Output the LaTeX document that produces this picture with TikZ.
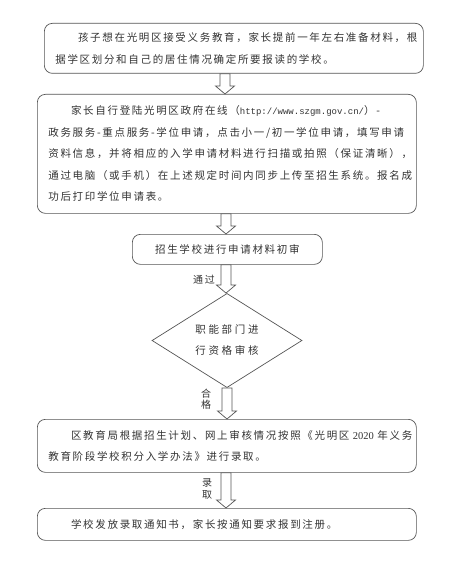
\documentclass[tikz,border=0pt]{standalone}
\usepackage{fontspec}
\setmainfont{Noto Sans CJK SC}[LetterSpace=16]
\newfontfamily\urlfont{Liberation Mono}
\newfontfamily\numfont{Liberation Serif}
\usetikzlibrary{shapes.geometric,calc}
\definecolor{linegray}{HTML}{555555}
\definecolor{textgray}{HTML}{333333}
\newcommand\blockarr[3]{%
  \draw[blk] let \p1=(#1.south), \p2=(#2.north) in
    (#3pt-5pt,\y1) -- (#3pt-5pt,\y2+8pt) -- (#3pt-9.5pt,\y2+8pt) -- (#3pt,\y2)
    -- (#3pt+9.5pt,\y2+8pt) -- (#3pt+5pt,\y2+8pt) -- (#3pt+5pt,\y1) -- cycle;}
\newcommand\ind{\phantom{汉字}}
\begin{document}
\begin{tikzpicture}[x=1pt,y=-1pt,
  box/.style={draw=linegray, rounded corners=8pt, line width=0.7pt,
    inner xsep=11pt, inner ysep=0pt, text width=357pt, align=left,
    anchor=north west, text=textgray,
    font=\fontsize{10.5}{21.5}\selectfont},
  blk/.style={draw=linegray, line width=0.7pt, fill=white},
  lbl/.style={text=textgray, inner sep=0pt, align=center,
    font=\fontsize{10}{12}\selectfont}]
\useasboundingbox[fill=white] (0,0) rectangle (459,561);

\node[box, minimum height=50pt] (b1) at (44,23)
  {\ind 孩子想在光明区接受义务教育，家长提前一年左右准备材料，根\\
   据学区划分和自己的居住情况确定所要报读的学校。};

\node[box, minimum height=119pt] (b2) at (37,94)
  {\ind 家长自行登陆光明区政府在线（{\urlfont\fontsize{9}{21.5}\selectfont http://www.szgm.gov.cn/}）-\\
   政务服务-重点服务-学位申请，点击小一/初一学位申请，填写申请\\
   资料信息，并将相应的入学申请材料进行扫描或拍照（保证清晰），\\
   通过电脑（或手机）在上述规定时间内同步上传至招生系统。报名成\\
   功后打印学位申请表。};

\node[box, text width=168pt, align=center, minimum height=30pt] (b3) at (132,234)
  {招生学校进行申请材料初审};

\node[diamond, draw=linegray, line width=0.7pt, minimum width=150pt,
  minimum height=91pt, inner sep=0pt, align=center, text=textgray,
  font=\fontsize{10.5}{21}\selectfont\addfontfeature{LetterSpace=26}] (d) at (227,340.5)
  {职能部门进\\行资格审核};

\node[box, minimum height=53pt] (b4) at (37,419)
  {\ind 区教育局根据招生计划、网上审核情况按照《光明区~{\numfont 2020}~年义务\\
   教育阶段学校积分入学办法》进行录取。};

\node[box, minimum height=32pt] (b5) at (37,508)
  {\ind 学校发放录取通知书，家长按通知要求报到注册。};

\blockarr{b1}{b2}{225}
\blockarr{b2}{b3}{226}
\blockarr{b3}{d}{226}
\blockarr{d}{b4}{227}
\blockarr{b4}{b5}{226}

\node[lbl] (l1) at (204,280) {通过};
\node[lbl, font=\fontsize{10}{11.5}\selectfont] (l2) at (206,399) {合\\格};
\node[lbl, font=\fontsize{10}{11.5}\selectfont] (l3) at (207,489) {录\\取};
\end{tikzpicture}
\end{document}
